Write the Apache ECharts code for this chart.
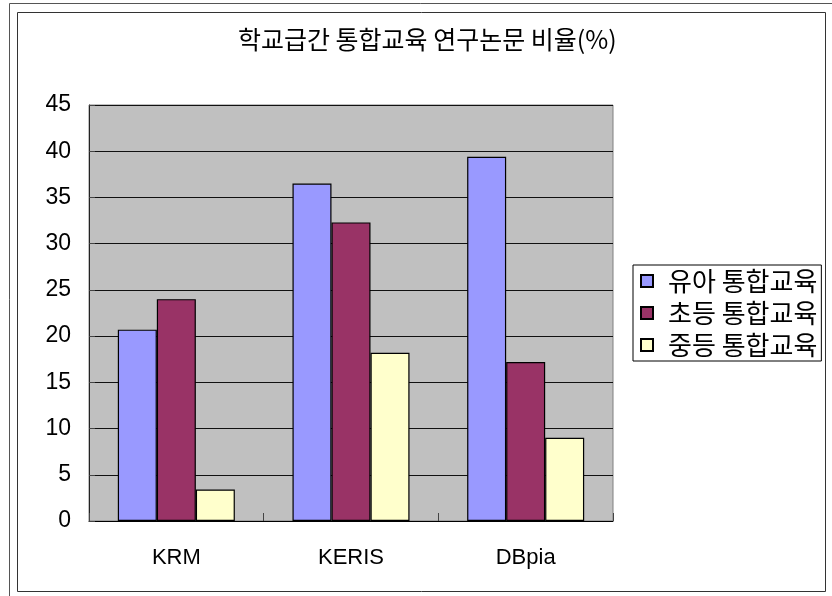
<!DOCTYPE html>
<html>
<head>
<meta charset="utf-8">
<script src="https://cdn.jsdelivr.net/npm/echarts@6/dist/echarts.min.js"></script>
<style>html,body{margin:0;padding:0;background:#fff}#c{width:832px;height:596px}</style>
</head>
<body>
<div id="c"></div>
<script>
const titleText = '학교급간 통합교육 연구논문 비율(%)';
const categories = ['KRM', 'KERIS', 'DBpia'];
const seriesNames = ['유아 통합교육', '초등 통합교육', '중등 통합교육'];
const kindergarten = [20.7, 36.5, 39.4];
const elementary = [24.0, 32.3, 17.2];
const secondary = [3.4, 18.2, 9.0];
const yTicks = [0, 5, 10, 15, 20, 25, 30, 35, 40, 45];
const colors = ['#9999FF', '#993366', '#FFFFCC'];

const krFont = '"Noto Sans CJK KR", "Noto Sans", sans-serif';
const numFont = '"Liberation Sans", Arial, sans-serif';
const seriesData = [kindergarten, elementary, secondary];

const chart = echarts.init(document.getElementById('c'), null, {renderer: 'canvas'});
chart.setOption({
  animation: false,
  backgroundColor: '#fff',
  title: {
    text: titleText,
    left: 238, top: 27,
    padding: 0,
    textStyle: {fontFamily: krFont, fontSize: 25, fontWeight: 'normal', color: '#000'}
  },
  legend: {
    orient: 'vertical',
    left: 633, top: 265,
    padding: [3, 4, 3, 7],
    icon: 'rect',
    itemWidth: 12, itemHeight: 12,
    itemGap: 6,
    borderColor: '#000', borderWidth: 1,
    backgroundColor: '#fff',
    textStyle: {fontFamily: krFont, fontSize: 26, color: '#000', lineHeight: 26, padding: [0, 0, 0, 10]},
    data: seriesNames
  },
  grid: {
    left: 89, top: 105, right: 219, bottom: 75,
    show: true, backgroundColor: '#C0C0C0', borderColor: '#808080', borderWidth: 1
  },
  xAxis: {
    type: 'category',
    data: categories,
    axisLine: {lineStyle: {color: '#000', width: 1}},
    axisTick: {show: true, inside: true, length: 8, lineStyle: {color: '#444'}},
    axisLabel: {fontFamily: numFont, fontSize: 22, color: '#000', margin: 26}
  },
  yAxis: {
    type: 'value',
    min: yTicks[0], max: yTicks[yTicks.length - 1], interval: yTicks[1] - yTicks[0],
    axisLine: {show: true, lineStyle: {color: '#222', width: 1}},
    axisTick: {show: true, inside: true, length: 6, lineStyle: {color: '#444'}},
    axisLabel: {fontFamily: numFont, fontSize: 23, color: '#000', margin: 18},
    splitLine: {show: true, lineStyle: {color: '#111', width: 1}}
  },
  series: seriesNames.map((n, i) => ({
    name: n,
    type: 'bar',
    data: seriesData[i],
    barGap: '0%',
    barCategoryGap: '33%',
    itemStyle: {color: colors[i], borderColor: '#000', borderWidth: 1.2}
  })),
  graphic: [
    {type: 'rect', shape: {x: 17.5, y: 12.5, width: 808, height: 579}, style: {fill: 'none', stroke: '#333', lineWidth: 1}, silent: true},
    {type: 'line', shape: {x1: 9.5, y1: 3.5, x2: 9.5, y2: 596}, style: {stroke: '#555', lineWidth: 1}, silent: true},
    {type: 'line', shape: {x1: 9.5, y1: 3.5, x2: 832, y2: 3.5}, style: {stroke: '#555', lineWidth: 1}, silent: true}
  ]
});
</script>
</body>
</html>
